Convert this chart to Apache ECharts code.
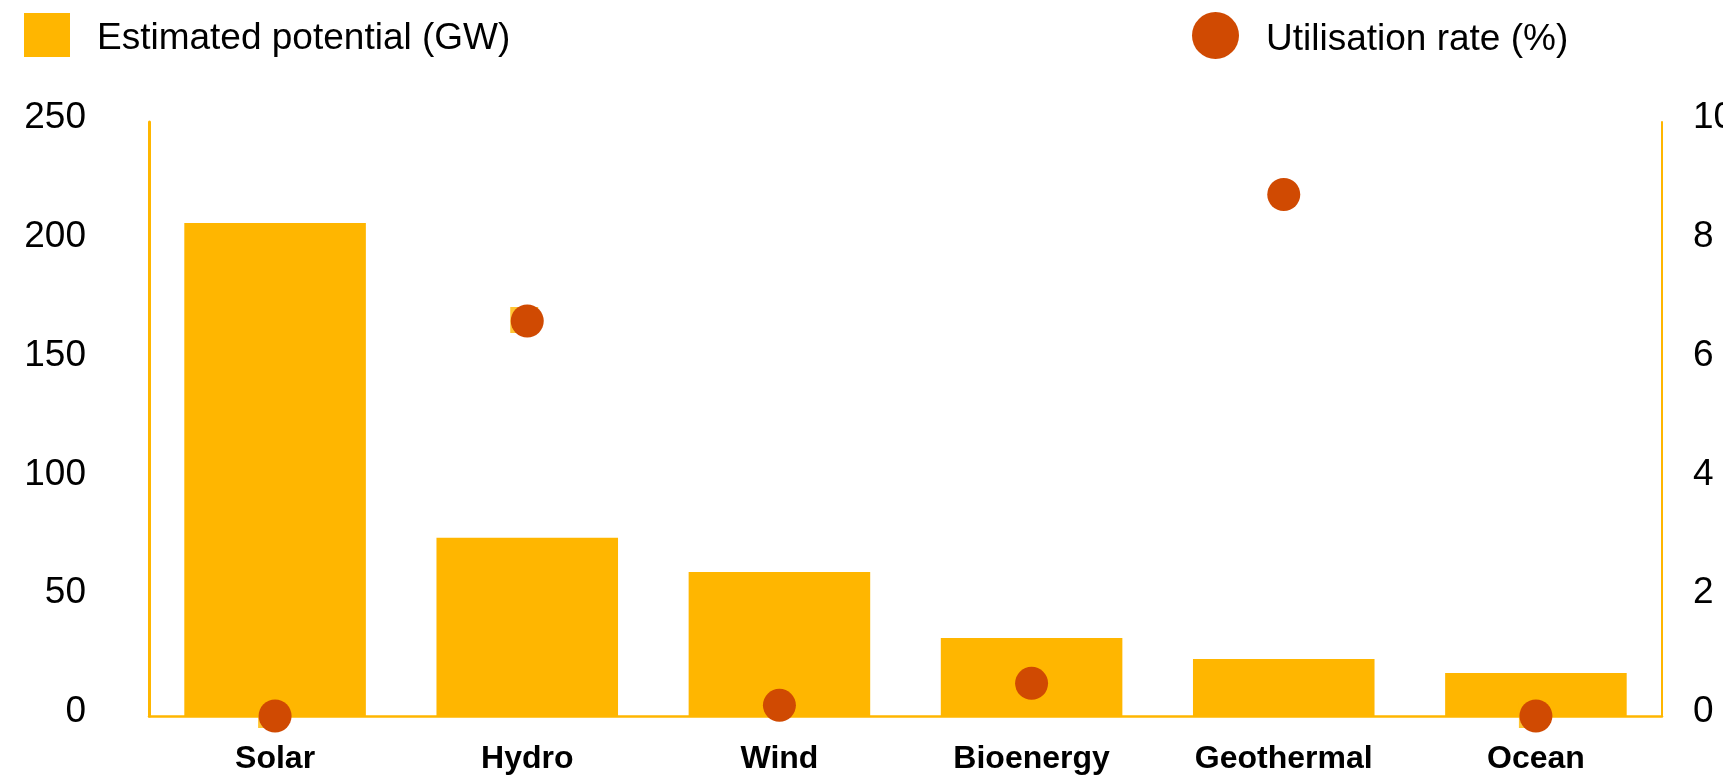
<!DOCTYPE html>
<html>
<head>
<meta charset="utf-8">
<script src="https://cdn.jsdelivr.net/npm/echarts@6/dist/echarts.min.js"></script>
<style>
html,body{margin:0;padding:0;background:#fff;}
#chart{width:1723px;height:775px;}
</style>
</head>
<body>
<div id="chart"></div>
<script>
const categories = ['Solar', 'Hydro', 'Wind', 'Bioenergy', 'Geothermal', 'Ocean'];
const potentialGW = [207.5, 75, 60.6, 32.8, 24, 18.1];
const utilisationPct = [0, 6.65, 0.18, 0.55, 8.78, 0];
// small leftover square markers peeking out behind some circles
const squareMarkPct = [0, 6.65, null, null, null, 0];
const leftTicks = {min: 0, max: 250, interval: 50};
const rightTicks = {min: 0, max: 10, interval: 2};

const FONT = "'Liberation Sans', Arial, Helvetica, sans-serif";
const YELLOW = '#FFB600';
const ORANGE = '#D04A02';

const legendText = {
  fontSize: 37, color: '#000', fontFamily: FONT,
  rich: {t: {fontSize: 37, color: '#000', fontFamily: FONT, padding: [8, 0, 0, 22]}}
};

const chart = echarts.init(document.getElementById('chart'));
chart.setOption({
  animation: false,
  backgroundColor: '#fff',
  textStyle: {fontFamily: FONT},
  legend: [
    {
      data: [{name: 'Estimated potential (GW)', icon: 'rect'}],
      left: 24, top: 13, padding: 0,
      itemWidth: 46, itemHeight: 44,
      formatter: '{t|{name}}',
      textStyle: legendText
    },
    {
      data: [{name: 'Utilisation rate (%)', icon: 'circle'}],
      left: 1192, top: 12, padding: 0,
      itemWidth: 47, itemHeight: 47,
      formatter: '{t|{name}}',
      textStyle: legendText
    }
  ],
  grid: {left: 149, right: 61, top: 122, bottom: 59, containLabel: false, outerBoundsMode: 'none'},
  xAxis: {
    type: 'category',
    data: categories,
    offset: 3,
    axisLine: {show: true, lineStyle: {color: YELLOW, width: 2.5}},
    axisTick: {show: false},
    axisLabel: {
      fontSize: 32, fontWeight: 'bold', color: '#000', fontFamily: FONT,
      margin: 24, lineHeight: 32, interval: 0
    }
  },
  yAxis: [
    {
      type: 'value',
      min: leftTicks.min, max: leftTicks.max, interval: leftTicks.interval,
      axisLine: {show: true, lineStyle: {color: YELLOW, width: 3}},
      axisTick: {show: false},
      splitLine: {show: false},
      axisLabel: {fontSize: 37, color: '#000', fontFamily: FONT, margin: 63,
                  verticalAlign: 'bottom', lineHeight: 8}
    },
    {
      type: 'value',
      position: 'right',
      min: rightTicks.min, max: rightTicks.max, interval: rightTicks.interval,
      axisLine: {show: true, lineStyle: {color: YELLOW, width: 2}},
      axisTick: {show: false},
      splitLine: {show: false},
      axisLabel: {fontSize: 37, color: '#000', fontFamily: FONT, margin: 31,
                  verticalAlign: 'bottom', lineHeight: 8}
    }
  ],
  series: [
    {
      name: 'Estimated potential (GW)',
      type: 'bar',
      data: potentialGW,
      barCategoryGap: '28%',
      itemStyle: {color: YELLOW},
      z: 2
    },
    {
      name: 'square-marks',
      type: 'scatter',
      yAxisIndex: 1,
      data: squareMarkPct,
      symbol: 'rect',
      symbolSize: [28, 26],
      symbolOffset: [-3, -1],
      itemStyle: {color: YELLOW},
      z: 3,
      silent: true
    },
    {
      name: 'Utilisation rate (%)',
      type: 'scatter',
      yAxisIndex: 1,
      data: utilisationPct,
      symbol: 'circle',
      symbolSize: 33,
      itemStyle: {color: ORANGE, opacity: 1},
      z: 4
    }
  ]
});
</script>
</body>
</html>
